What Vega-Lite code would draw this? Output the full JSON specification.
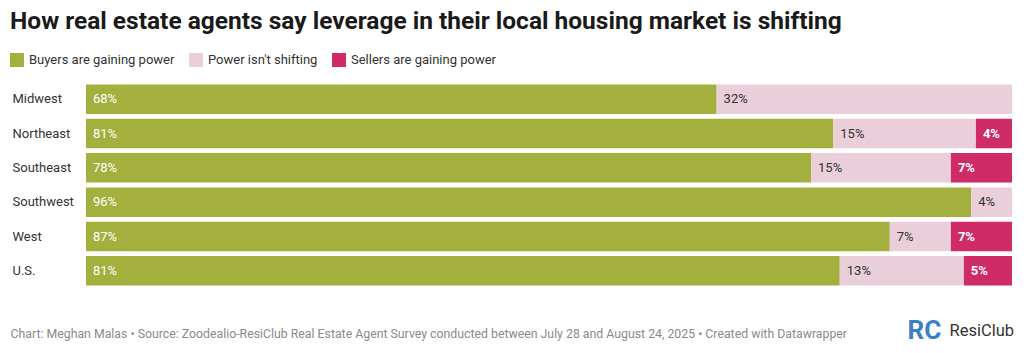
{
  "$schema": "https://vega.github.io/schema/vega-lite/v6.json",
  "width": 926,
  "height": 206,
  "autosize": "none",
  "padding": {"left": 86, "top": 82, "right": 12, "bottom": 65},
  "background": "white",
  "title": {
    "text": "How real estate agents say leverage in their local housing market is shifting",
    "anchor": "start",
    "frame": "group",
    "dx": -76,
    "fontSize": 24.5,
    "font": "Roboto",
    "fontWeight": "bold",
    "color": "#1a1a1a",
    "offset": 19
  },
  "config": {
    "view": {"stroke": null},
    "font": "Roboto"
  },
  "data": {
    "values": [
      {"region": "Midwest", "category": "Buyers are gaining power", "order": 1, "value": 68.1},
      {"region": "Midwest", "category": "Power isn't shifting", "order": 2, "value": 31.9},
      {"region": "Northeast", "category": "Buyers are gaining power", "order": 1, "value": 80.7},
      {"region": "Northeast", "category": "Power isn't shifting", "order": 2, "value": 15.4},
      {"region": "Northeast", "category": "Sellers are gaining power", "order": 3, "value": 3.9},
      {"region": "Southeast", "category": "Buyers are gaining power", "order": 1, "value": 78.3},
      {"region": "Southeast", "category": "Power isn't shifting", "order": 2, "value": 15.1},
      {"region": "Southeast", "category": "Sellers are gaining power", "order": 3, "value": 6.6},
      {"region": "Southwest", "category": "Buyers are gaining power", "order": 1, "value": 95.6},
      {"region": "Southwest", "category": "Power isn't shifting", "order": 2, "value": 4.4},
      {"region": "West", "category": "Buyers are gaining power", "order": 1, "value": 86.8},
      {"region": "West", "category": "Power isn't shifting", "order": 2, "value": 6.6},
      {"region": "West", "category": "Sellers are gaining power", "order": 3, "value": 6.6},
      {"region": "U.S.", "category": "Buyers are gaining power", "order": 1, "value": 81.4},
      {"region": "U.S.", "category": "Power isn't shifting", "order": 2, "value": 13.4},
      {"region": "U.S.", "category": "Sellers are gaining power", "order": 3, "value": 5.2}
    ]
  },
  "transform": [
    {"stack": "value", "groupby": ["region"], "sort": [{"field": "order", "order": "ascending"}], "as": ["x0", "x1"]},
    {"calculate": "format(datum.value, '.0f') + '%'", "as": "label"}
  ],
  "resolve": {"axis": {"y": "independent"}},
  "layer": [
    {
      "mark": {"type": "bar"},
      "encoding": {
        "y": {
          "field": "region",
          "type": "nominal",
          "sort": ["Midwest", "Northeast", "Southeast", "Southwest", "West", "U.S."],
          "scale": {"paddingInner": 0.14, "paddingOuter": 0.07},
          "axis": {
            "orient": "left",
            "title": "ResiClub",
            "titleAngle": 0,
            "titleX": 863,
            "titleY": 248,
            "titleAlign": "left",
            "titleBaseline": "middle",
            "titleFontSize": 16.5,
            "titleFontWeight": "normal",
            "titleColor": "#333333",
            "titleFont": "Roboto",
            "labelAlign": "left",
            "labelPadding": 74,
            "labelFontSize": 13,
            "labelColor": "#333333",
            "labelFont": "Roboto",
            "ticks": false,
            "domain": false
          }
        },
        "x": {
          "field": "x0",
          "type": "quantitative",
          "scale": {"domain": [0, 100], "nice": false},
          "axis": {
            "labels": false,
            "ticks": false,
            "grid": false,
            "domain": false,
            "title": "Chart: Meghan Malas • Source: Zoodealio-ResiClub Real Estate Agent Survey conducted between July 28 and August 24, 2025 • Created with Datawrapper",
            "titleAnchor": "start",
            "titleAlign": "left",
            "titleX": -76,
            "titleY": 49,
            "titleBaseline": "alphabetic",
            "titleFontSize": 12.3,
            "titleFontWeight": "normal",
            "titleColor": "#8a8a8a",
            "titleFont": "Roboto"
          }
        },
        "x2": {"field": "x1"},
        "color": {
          "field": "category",
          "type": "nominal",
          "scale": {
            "domain": ["Buyers are gaining power", "Power isn't shifting", "Sellers are gaining power"],
            "range": ["#a3b03d", "#eacfdb", "#cf2b67"]
          },
          "legend": {
            "title": null,
            "orient": "none",
            "direction": "horizontal",
            "legendX": -76,
            "legendY": -29,
            "symbolType": "square",
            "symbolSize": 196,
            "symbolStrokeWidth": 0,
            "symbolOpacity": 1,
            "labelFontSize": 13,
            "labelColor": "#333333",
            "labelFont": "Roboto",
            "labelOffset": 5,
            "columnPadding": 14
          }
        }
      }
    },
    {
      "mark": {"type": "text", "align": "left", "baseline": "middle", "dx": 7, "fontSize": 13, "font": "Roboto"},
      "transform": [{"filter": "datum.category !== 'Sellers are gaining power'"}],
      "encoding": {
        "y": {
          "field": "region",
          "type": "nominal",
          "sort": ["Midwest", "Northeast", "Southeast", "Southwest", "West", "U.S."],
          "axis": {
            "orient": "right",
            "title": "RC",
            "titleAngle": 0,
            "titleX": -105,
            "titleY": 248,
            "titleAlign": "left",
            "titleBaseline": "middle",
            "titleFontSize": 26,
            "titleFontWeight": "bold",
            "titleColor": "#3b7fc4",
            "titleFont": "Roboto",
            "labels": false,
            "ticks": false,
            "domain": false
          }
        },
        "x": {"field": "x0", "type": "quantitative"},
        "text": {"field": "label", "type": "nominal"},
        "color": {
          "condition": {"test": "datum.category === 'Power isn\\'t shifting'", "value": "#333333"},
          "value": "#ffffff"
        }
      }
    },
    {
      "mark": {"type": "text", "align": "left", "baseline": "middle", "dx": 7, "fontSize": 13, "font": "Roboto", "fontWeight": "bold", "color": "#ffffff"},
      "transform": [{"filter": "datum.category === 'Sellers are gaining power'"}],
      "encoding": {
        "y": {
          "field": "region",
          "type": "nominal",
          "sort": ["Midwest", "Northeast", "Southeast", "Southwest", "West", "U.S."],
          "axis": null
        },
        "x": {"field": "x0", "type": "quantitative"},
        "text": {"field": "label", "type": "nominal"}
      }
    }
  ]
}
